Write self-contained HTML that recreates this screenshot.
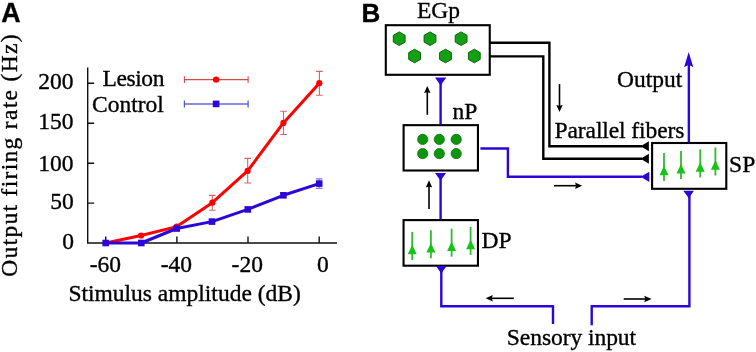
<!DOCTYPE html>
<html><head><meta charset="utf-8">
<style>
html,body{margin:0;padding:0;background:#fff;}
body{width:756px;height:352px;overflow:hidden;position:relative;}
svg{position:absolute;left:0;top:0;display:block;will-change:transform;}
text{font-family:"Liberation Serif",serif;font-size:23.5px;fill:#000;stroke:#000;stroke-width:0.35px;}
.lbl{font-family:"Liberation Sans",sans-serif;font-weight:bold;font-size:26px;}
</style></head>
<body>
<svg width="756" height="352" viewBox="0 0 756 352">
<!-- Panel labels -->
<text id="tA" class="lbl" x="1.2" y="21.5" style="font-size:26.8px">A</text>
<text id="tB" class="lbl" x="361.6" y="21.5">B</text>

<!-- ===== Chart A ===== -->
<g stroke="#111" stroke-width="1.4" fill="none">
  <path d="M87.7 67.5 V243 H337"/>
  <path d="M87.7 83.3 h6.5 M87.7 123.2 h6.5 M87.7 163.2 h6.5 M87.7 203.1 h6.5"/>
  <path d="M105.7 243 v-6.5 M176.9 243 v-6.5 M248 243 v-6.5 M319.2 243 v-6.5"/>
</g>
<text id="y200" x="38.2" y="89">200</text>
<text id="y150" x="38.2" y="129">150</text>
<text id="y100" x="38.2" y="170.5">100</text>
<text id="y50" x="50.2" y="209">50</text>
<text id="y0" x="62.2" y="248.8">0</text>
<text id="xm60" x="89.7" y="272">-60</text>
<text id="xm40" x="160.7" y="272">-40</text>
<text id="xm20" x="231.6" y="272">-20</text>
<text id="x0" x="317" y="272">0</text>
<text id="xl" x="68.4" y="300.5">Stimulus amplitude (dB)</text>
<text id="yl" textLength="242.4" lengthAdjust="spacing" transform="translate(17.1,276.8) rotate(-90)">Output firing rate (Hz)</text>
<!-- legend -->
<text id="tLes" x="102.5" y="85.5" textLength="61.9" lengthAdjust="spacing">Lesion</text>
<text id="tCon" x="92" y="112">Control</text>
<g stroke="#d84848" stroke-width="1.1" fill="none">
  <path d="M184.4 79.6 H248.1 M184.4 76.3 v6.6 M248.1 76.3 v6.6"/>
</g>
<circle cx="216.1" cy="79.6" r="3.2" fill="#f00"/>
<path d="M184.4 103.9 H248.1" stroke="#8c8ce6" stroke-width="2" fill="none"/>
<path d="M184.4 100.4 v7 M248.1 100.4 v7" stroke="#5a5ad6" stroke-width="1.3" fill="none"/>
<rect x="212.8" y="100.6" width="6.6" height="6.6" fill="#2c06d8"/>

<!-- error bars lesion -->
<g stroke="#d46464" stroke-width="1.1" fill="none">
  <path d="M212.3 195.4 V210.2 M209.0 195.4 h6.6 M209.0 210.2 h6.6"/>
  <path d="M247.7 158.4 V183.0 M244.4 158.4 h6.6 M244.4 183.0 h6.6"/>
  <path d="M283.5 111.3 V134.5 M280.2 111.3 h6.6 M280.2 134.5 h6.6"/>
  <path d="M319.4 71.4 V95.2 M316.1 71.4 h6.6 M316.1 95.2 h6.6"/>
</g>
<!-- lesion line -->
<polyline fill="none" stroke="#f00" stroke-width="3" stroke-linejoin="round"
  points="105.7,243 141.1,235.5 176.8,226.6 212.3,202.7 247.6,170.9 283.4,122.9 319.3,83.2"/>
<g fill="#f00">
  <circle cx="141.1" cy="235.5" r="3.1"/>
  <circle cx="176.8" cy="226.6" r="3.1"/>
  <circle cx="212.3" cy="202.7" r="3.1"/>
  <circle cx="247.6" cy="170.9" r="3.1"/>
  <circle cx="283.4" cy="122.9" r="3.1"/>
  <circle cx="319.3" cy="83.2" r="3.1"/>
</g>
<!-- control error bars -->
<g stroke="#7a7ae0" stroke-width="1.1" fill="none">
  <path d="M319.2 178.9 V188.4 M315.9 178.9 h6.6 M315.9 188.4 h6.6"/>
</g>
<polyline fill="none" stroke="#2c06d8" stroke-width="3" stroke-linejoin="round"
  points="105.7,243 141.3,243 176.7,228.5 212.0,221.6 247.8,209.4 283.4,195.3 319.2,183.6"/>
<g fill="#2c06d8">
  <rect x="102.4" y="239.7" width="6.6" height="6.6"/>
  <rect x="138.0" y="239.7" width="6.6" height="6.6"/>
  <rect x="173.4" y="225.2" width="6.6" height="6.6"/>
  <rect x="208.7" y="218.3" width="6.6" height="6.6"/>
  <rect x="244.5" y="206.1" width="6.6" height="6.6"/>
  <rect x="280.1" y="192.0" width="6.6" height="6.6"/>
  <rect x="315.9" y="180.3" width="6.6" height="6.6"/>
</g>

<!-- ===== Diagram B ===== -->
<!-- boxes -->
<g fill="none" stroke="#000" stroke-width="2.1">
  <rect x="385.8" y="25.2" width="103.95" height="49.6"/>
  <rect x="403.6" y="125.15" width="74.35" height="45.35"/>
  <rect x="403.55" y="220.1" width="74.4" height="45.6"/>
  <rect x="652.1" y="143" width="74.2" height="45.8"/>
</g>
<text id="tEGp" x="417" y="17.7">EGp</text>
<text id="tnP" x="452.5" y="119.2">nP</text>
<text id="tDP" x="481.5" y="247.8">DP</text>
<text id="tSP" x="729.1" y="172.1">SP</text>
<text id="tOut" x="617" y="86.7">Output</text>
<text id="tPF" x="554.5" y="137.9" textLength="129.9" lengthAdjust="spacing">Parallel fibers</text>
<text id="tSI" x="506.8" y="344.8" textLength="129.3" lengthAdjust="spacing">Sensory input</text>

<!-- hexagons -->
<defs>
  <path id="hx" d="M0 -6.8 L5.9 -3.4 L5.9 3.4 L0 6.8 L-5.9 3.4 L-5.9 -3.4 Z" fill="#14a014" stroke="#066606" stroke-width="1"/>
  <g id="nr">
    <path d="M0 0 V28" stroke="#30ba30" stroke-width="1.8" fill="none"/>
    <path d="M0 12.8 L4.5 22.3 L-4.5 22.3 Z" fill="#16c316"/>
  </g>
</defs>
<use href="#hx" x="399.2" y="38.7"/>
<use href="#hx" x="430" y="38.7"/>
<use href="#hx" x="461.1" y="38.7"/>
<use href="#hx" x="414.6" y="56"/>
<use href="#hx" x="445.5" y="56"/>
<use href="#hx" x="474.3" y="56"/>

<!-- nP dots -->
<g fill="#0c960c" stroke="#077007" stroke-width="0.8">
  <circle cx="422.7" cy="139.4" r="5.1"/>
  <circle cx="439.3" cy="139.4" r="5.1"/>
  <circle cx="456.2" cy="139.4" r="5.1"/>
  <circle cx="422.7" cy="153.6" r="5.1"/>
  <circle cx="439.3" cy="153.6" r="5.1"/>
  <circle cx="456.2" cy="153.6" r="5.1"/>
</g>

<!-- neurons DP -->
<use href="#nr" x="412.2" y="231.9"/>
<use href="#nr" x="430.9" y="230.3"/>
<use href="#nr" x="451.6" y="228.7"/>
<use href="#nr" x="470.6" y="226.9"/>
<!-- neurons SP -->
<use href="#nr" x="664" y="153"/>
<use href="#nr" x="681" y="151.1"/>
<use href="#nr" x="700.2" y="149.4"/>
<use href="#nr" x="715.4" y="147.5"/>

<!-- parallel fibers (black) -->
<g fill="none" stroke="#000" stroke-width="2.4">
  <path d="M489.75 42.8 H549.4 V146.2 H642"/>
  <path d="M489.75 56.4 H543.3 V158.8 H642"/>
</g>
<g fill="#000">
  <path d="M640.6 146.2 L648.9 141.2 L648.9 151.2 Z"/>
  <path d="M640.6 158.8 L648.9 153.8 L648.9 163.8 Z"/>
</g>

<!-- blue connections -->
<g fill="none" stroke="#2c06d8" stroke-width="2.4">
  <path d="M440.6 79 V124.5"/>
  <path d="M440.6 175 V219.5"/>
  <path d="M480.4 148.5 H507.9 V176.8 H642"/>
  <path d="M441.3 268 V306.2 H553 V324"/>
  <path d="M591.7 325.3 V306.3 H689.4 V192"/>
  <path d="M688.85 142.2 V62"/>
</g>
<g fill="#2c06d8">
  <path d="M435 77.6 L446.3 77.6 L440.6 85.4 Z"/>
  <path d="M435 173 L446 173 L440.6 180.7 Z"/>
  <path d="M435.9 266 L446.6 266 L441.3 273.4 Z"/>
  <path d="M683.3 190.7 L693.9 190.7 L688.8 198.2 Z"/>
  <path d="M640.6 176.8 L649.3 171.7 L649.3 181.9 Z"/>
  <path d="M688.7 52 L693.3 67.3 L688.7 64.8 L684.1 67.3 Z"/>
</g>

<!-- black small arrows -->
<g stroke="#000" stroke-width="1.6" fill="none">
  <path d="M427.3 114.8 V92"/>
  <path d="M429 208.9 V186"/>
  <path d="M559.5 84.1 V106"/>
  <path d="M513.8 298.3 H492"/>
  <path d="M623.7 299 H645"/>
  <path d="M554 185.7 H576"/>
</g>
<g fill="#000">
  <path d="M427.3 86 L430.5 93.1 L427.3 92.2 L424.1 93.1 Z"/>
  <path d="M429 180.3 L432.2 187.5 L429 186.6 L425.8 187.5 Z"/>
  <path d="M559.5 111.9 L562.7 104.9 L559.5 105.8 L556.3 104.9 Z"/>
  <path d="M485.7 298.3 L492.8 295.1 L491.9 298.3 L492.8 301.5 Z"/>
  <path d="M651.5 299 L644.3 295.8 L645.2 299 L644.3 302.2 Z"/>
  <path d="M582.1 185.7 L575.1 182.5 L576 185.7 L575.1 188.9 Z"/>
</g>
</svg>
</body></html>
